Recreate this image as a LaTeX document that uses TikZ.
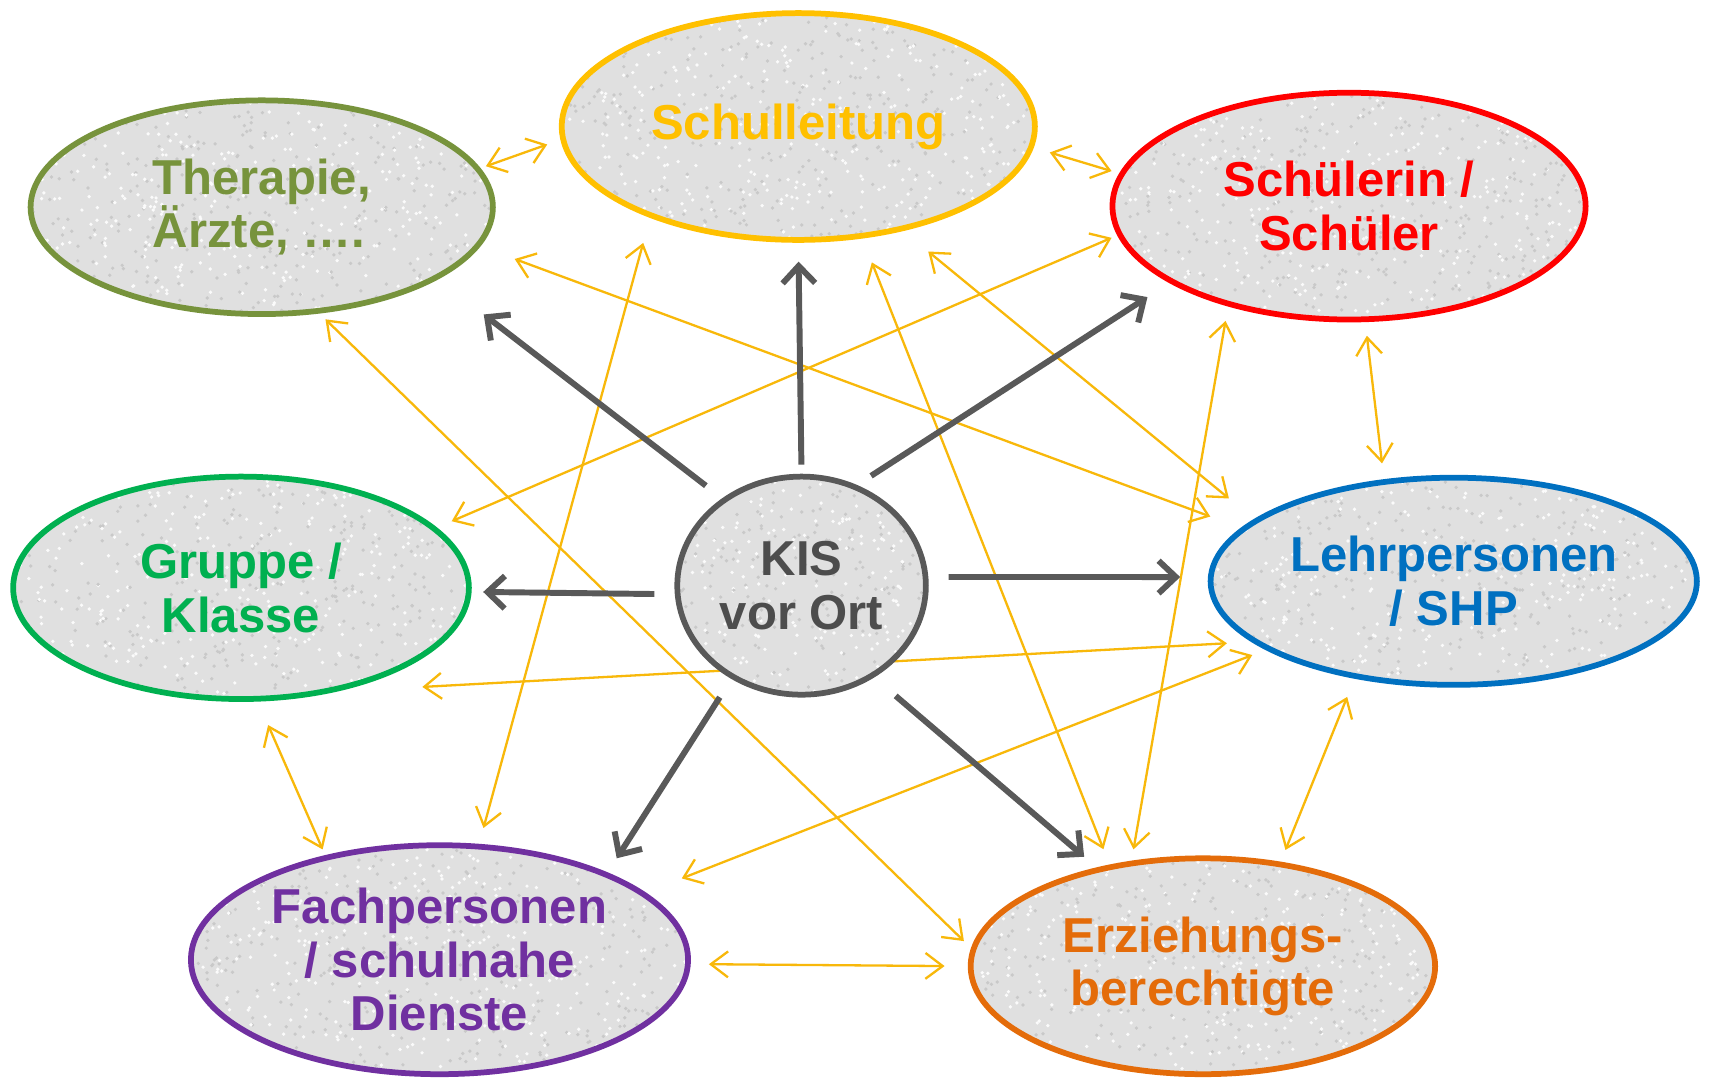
\documentclass[tikz,border=0pt]{standalone}
\usepackage{fontspec}
\setmainfont{Liberation Sans}
\usetikzlibrary{arrows.meta,shapes.geometric,calc}
\pgfdeclarelayer{bg}
\pgfsetlayers{bg,main}
\definecolor{cgold}{HTML}{FFC000}
\definecolor{cline}{HTML}{F8B80A}
\definecolor{colive}{HTML}{77933C}
\definecolor{cred}{HTML}{FF0000}
\definecolor{cgreen}{HTML}{00B050}
\definecolor{cgray}{HTML}{595959}
\definecolor{ctext}{HTML}{4D4D4D}
\definecolor{cblue}{HTML}{0070C0}
\definecolor{cpurple}{HTML}{7030A0}
\definecolor{corange}{HTML}{E46C0A}
\definecolor{cfill}{HTML}{E0E0E0}
\begin{document}
\begin{tikzpicture}[x=0.02cm,y=-0.02cm,
  ell/.style={ellipse, draw, line width=3pt, fill=cfill, inner sep=0pt, outer sep=0pt,
    align=center, font=\fontsize{25.6}{27.9}\selectfont\bfseries,
    path picture={
      \foreach \k in {1,...,450}{
        \fill[gray!42] ([shift={({rand*240},{rand*115})}]path picture bounding box.center) circle (1.7);
        \fill[white!97!gray] ([shift={({rand*240},{rand*115})}]path picture bounding box.center) circle (1.7);
      }}},
  ends/.style 2 args={shorten <={#1*0.5669pt}, shorten >={#2*0.5669pt}},
  garrow/.style={draw=cgray, line width=3.1pt, -{Straight Barb[length=9pt,width=17pt]}},
  oarrow/.style={draw=cline, line width=1.2pt, {Straight Barb[length=9pt,width=13.5pt]}-{Straight Barb[length=9pt,width=13.5pt]}}]
\useasboundingbox (0,0) rectangle (1568,988);
\pgfmathsetseed{4711}
% nodes
\node[ell, draw=cgold, text=cgold, minimum width=8.68cm, minimum height=4.16cm] (schul) at (732,116) {Schulleitung};
\node[ell, draw=colive, text=colive, minimum width=8.48cm, minimum height=3.92cm, align=left] (ther) at (240,190) {Therapie,\\Ärzte, ….};
\node[ell, draw=cred, text=cred, minimum width=8.68cm, minimum height=4.16cm] (schue) at (1237,189) {Schülerin /\\Schüler};
\node[ell, draw=cgreen, text=cgreen, minimum width=8.36cm, minimum height=4.08cm] (grup) at (221,539) {Gruppe /\\Klasse};
\node[ell, draw=cgray, text=ctext, minimum width=4.56cm, minimum height=4.00cm] (kis) at (735,537) {KIS\\vor Ort};
\node[ell, draw=cblue, text=cblue, minimum width=8.92cm, minimum height=3.80cm] (lehr) at (1333,533) {Lehrpersonen\\/ SHP};
\node[ell, draw=cpurple, text=cpurple, minimum width=9.12cm, minimum height=4.20cm] (fach) at (403,880) {Fachpersonen\\/ schulnahe\\Dienste};
\node[ell, draw=corange, text=corange, minimum width=8.52cm, minimum height=3.96cm] (erz) at (1103,886) {Erziehungs-\\berechtigte};
\begin{pgfonlayer}{bg}
\fill[white] (0,0) rectangle (1568,988);
% orange two-way connectors
\draw[oarrow, ends={8}{15.5}]    (ther.10.2)   -- (schul.183.5);
\draw[oarrow, ends={18}{10}]     (schul.-5.6)  -- (schue.172.6);
\draw[oarrow, ends={15.3}{17.3}] (schue.-82.2) -- (lehr.125.6);
\draw[oarrow, ends={26.4}{8.4}]  (grup.-82.5)  -- (fach.138.3);
\draw[oarrow, ends={19.3}{24}]   (fach.-1.3)   -- (erz.180);
\draw[oarrow, ends={20.7}{14.3}] (lehr.224)    -- (erz.53.9);
\draw[oarrow, ends={26.5}{17.8}] (schul.211.1) -- (fach.71.2);
\draw[oarrow, ends={26.3}{17.8}] (schul.-60.7) -- (erz.133.7);
\draw[oarrow, ends={33}{32.5}]   (schul.-45.1) -- (lehr.163.5);
\draw[oarrow, ends={36.3}{33}]   (ther.-10.5)  -- (lehr.166.1);
\draw[oarrow, ends={11}{12}]     (ther.-62.7)  -- (erz.176.6);
\draw[oarrow, ends={8.3}{17.6}]  (schue.187.6) -- (grup.17.4);
\draw[oarrow, ends={16.1}{13.3}] (schue.219.8) -- (erz.125.7);
\draw[oarrow, ends={97}{27}]     (grup.-54.3)  -- (lehr.197);
\draw[oarrow, ends={38.7}{16.4}] (fach.18.7)   -- (lehr.200.7);
% grey arrows from KIS
\draw[garrow, ends={21.7}{55.7}] (kis.132.7) -- (ther.-22.2);
\draw[garrow, ends={11}{20}]     (kis.90)    -- (schul.-90);
\draw[garrow, ends={18.6}{26.8}] (kis.62.5)  -- (schue.203.3);
\draw[garrow, ends={21.4}{13.3}] (kis.184)   -- (grup.-1.4);
\draw[garrow, ends={21.4}{28.2}] (kis.4)     -- (lehr.179);
\draw[garrow, ends={22.6}{18}]   (kis.233.9) -- (fach.27.8);
\draw[garrow, ends={28.8}{18.3}] (kis.-52.9) -- (erz.137.8);
\end{pgfonlayer}
\end{tikzpicture}
\end{document}
